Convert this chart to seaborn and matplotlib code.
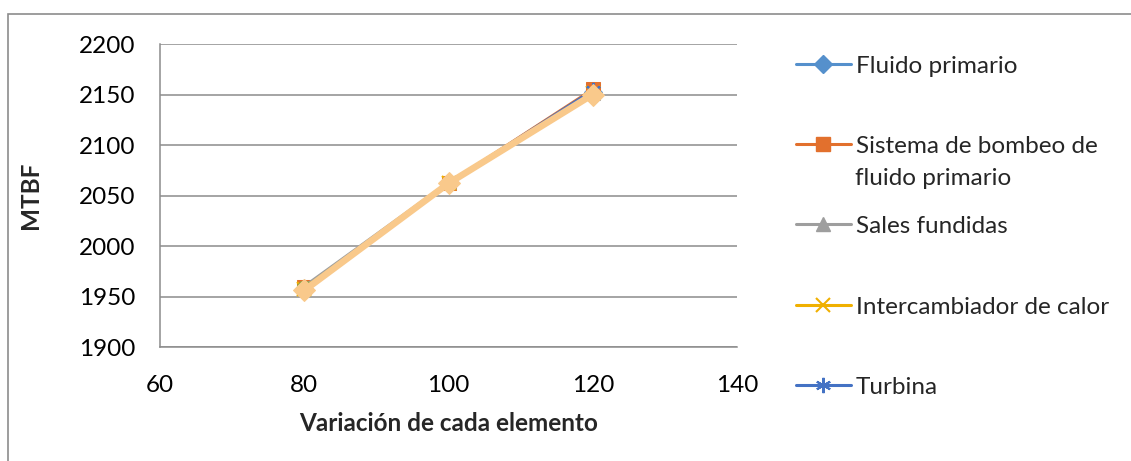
import matplotlib
matplotlib.use("Agg")
import matplotlib.pyplot as plt
from matplotlib.lines import Line2D
from matplotlib.patches import Rectangle
import seaborn as sns
import pandas as pd

# Element variation (%) and resulting MTBF for each subsystem
variacion = [80, 100, 120]
fluido_primario = [1957, 2062, 2152]
sistema_bombeo = [1959, 2062, 2155]
sales_fundidas = [1960, 2063, 2151]
intercambiador = [1957, 2062, 2151]
turbina = [1956, 2062, 2154]
serie_6 = [1958, 2062, 2150]
serie_7 = [1956, 2062, 2150]

y_ticks = [1900, 1950, 2000, 2050, 2100, 2150, 2200]
x_ticks = [60, 80, 100, 120, 140]

sns.set_theme(style="white")
plt.rcParams["font.family"] = ["Lato", "DejaVu Sans"]
FS = 17.5

fig = plt.figure(figsize=(11.31, 4.61), dpi=100)
W, H = 1131, 461
ax = fig.add_axes([160 / W, 1 - 347 / H, (737 - 160) / W, (347 - 44) / H])

# Outer chart frame (runs past the right and bottom edges)
fig.add_artist(Rectangle((8 / W, -0.2), 1.5, 1 - 14 / H + 0.2, transform=fig.transFigure,
                         fill=False, edgecolor="#8c8c8c", linewidth=1.2, clip_on=False))

styles = [
    ("Fluido primario", fluido_primario, dict(color="#5590CC", marker="D", markersize=9)),
    ("Sistema de bombeo de fluido primario", sistema_bombeo, dict(color="#E2702D", marker="s", markersize=10.5)),
    ("Sales fundidas", sales_fundidas, dict(color="#9E9E9E", marker="^", markersize=10.5)),
    ("Intercambiador de calor", intercambiador, dict(color="#F0B000", marker="x", markersize=10, markeredgewidth=1.5)),
    ("Turbina", turbina, dict(color="#4472C4", marker=(6, 2, 0), markersize=11, markeredgewidth=1.5)),
    ("serie_6", serie_6, dict(color="#70AD47", marker="X", markersize=10)),
    ("serie_7", serie_7, dict(color="#F9C98B", marker="D", markersize=11, linewidth=4.8)),
]

handles = {}
for name, vals, st in styles:
    st = dict(st)
    lw = st.pop("linewidth", 2.2)
    df = pd.DataFrame({"x": variacion, "y": vals})
    sns.lineplot(data=df, x="x", y="y", ax=ax, linewidth=lw,
                 markeredgecolor=st["color"], **st)
    handles[name] = Line2D([], [], linewidth=2.2, markeredgecolor=st["color"], **st)

ax.set_xlim(60, 140)
ax.set_ylim(1900, 2200)
ax.set_xticks(x_ticks)
ax.set_yticks(y_ticks)
ax.tick_params(axis="y", length=0, pad=18, labelsize=FS, colors="black")
ax.tick_params(axis="x", length=0, pad=20, labelsize=FS, colors="black")
ax.grid(axis="y", color="#8c8c8c", linewidth=1.1)
ax.grid(axis="x", visible=False)
for side in ["top", "right"]:
    ax.spines[side].set_visible(False)
for side in ["left", "bottom"]:
    ax.spines[side].set_color("#8c8c8c")
    ax.spines[side].set_linewidth(1.1)

ax.set_xlabel("Variación de cada elemento", fontsize=FS, fontweight="bold", labelpad=12)
ax.set_ylabel("MTBF", fontsize=FS, fontweight="bold", labelpad=26)

# Legend entries, one per row
rows = [
    ("Fluido primario", "Fluido primario", 66),
    ("Sistema de bombeo de fluido primario", "Sistema de bombeo de", 146),
    ("Sales fundidas", "Sales fundidas", 226),
    ("Intercambiador de calor", "Intercambiador de calor", 307),
    ("Turbina", "Turbina", 387),
]
for key, label, yp in rows:
    fig.legend(handles=[handles[key]], labels=[label], loc="center left",
               bbox_to_anchor=(796 / W, 1 - yp / H), bbox_transform=fig.transFigure,
               frameon=False, fontsize=FS, handlelength=2.25, handletextpad=0.2,
               borderpad=0, borderaxespad=0)
fig.text(855 / W, 1 - 178 / H, "fluido primario", fontsize=FS, va="center", ha="left")

fig.savefig("out.png", dpi=100)
